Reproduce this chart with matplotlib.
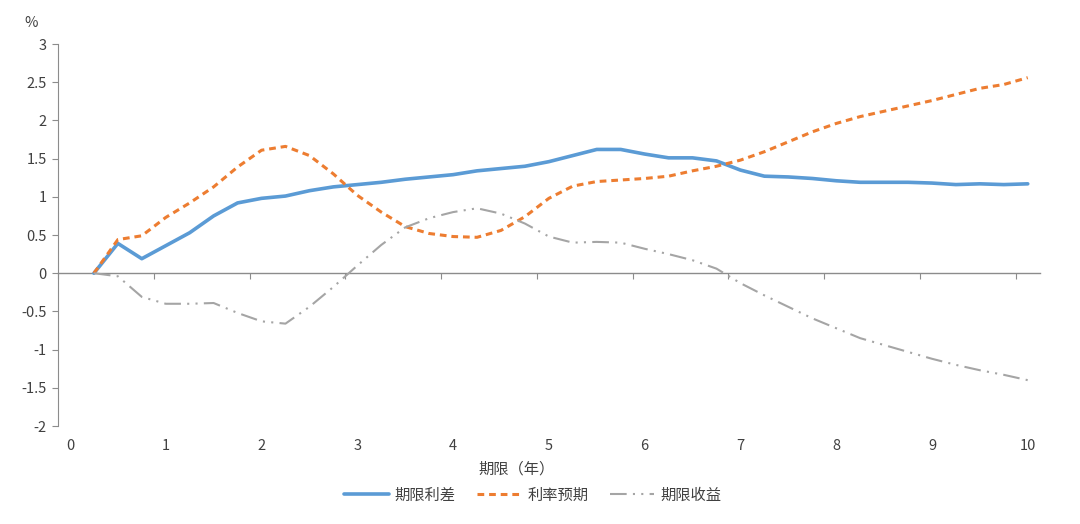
import numpy as np
import matplotlib.pyplot as plt

plt.rcParams['font.family'] = ['Noto Sans CJK SC', 'DejaVu Sans']

# maturities (years), quarterly
maturity = np.arange(1, 41) * 0.25

term_spread = [0.00, 0.39, 0.19, 0.36, 0.53, 0.75, 0.92, 0.98, 1.01, 1.08,
               1.13, 1.16, 1.19, 1.23, 1.26, 1.29, 1.34, 1.37, 1.40, 1.46,
               1.54, 1.62, 1.62, 1.56, 1.51, 1.51, 1.47, 1.35, 1.27, 1.26,
               1.24, 1.21, 1.19, 1.19, 1.19, 1.18, 1.16, 1.17, 1.16, 1.17]
rate_expect = [0.00, 0.44, 0.49, 0.73, 0.92, 1.13, 1.39, 1.61, 1.66, 1.54,
               1.30, 1.02, 0.80, 0.61, 0.52, 0.48, 0.47, 0.56, 0.74, 0.98,
               1.14, 1.20, 1.22, 1.24, 1.27, 1.34, 1.40, 1.48, 1.59, 1.72,
               1.85, 1.96, 2.05, 2.12, 2.19, 2.26, 2.34, 2.42, 2.47, 2.56]
term_premium = [0.00, -0.04, -0.31, -0.40, -0.40, -0.39, -0.52, -0.63, -0.66, -0.44,
                -0.18, 0.10, 0.37, 0.60, 0.72, 0.80, 0.85, 0.78, 0.65, 0.48,
                0.40, 0.41, 0.40, 0.32, 0.25, 0.17, 0.06, -0.13, -0.29, -0.44,
                -0.59, -0.72, -0.85, -0.94, -1.03, -1.12, -1.20, -1.27, -1.33, -1.40]

labels = ['期限利差', '利率预期', '期限收益']
xticks = np.arange(0, 11)
yticks = np.arange(-2, 3.01, 0.5)

axis_grey = '#8c8c8c'
text_col = '#404040'

fig = plt.figure(figsize=(10.8, 5.24), dpi=100)
ax = fig.add_axes([0.0537, 0.187, 0.909, 0.729])

ax.plot(maturity, term_spread, color='#5B9BD5', lw=2.6, label=labels[0],
        solid_capstyle='round')
ax.plot(maturity, rate_expect, color='#ED7D31', lw=2.2, ls=(0, (2.2, 1.6)),
        label=labels[1])
ax.plot(maturity, term_premium, color='#A5A5A5', lw=1.5,
        ls=(0, (8, 3, 1, 3, 1, 3)), label=labels[2])

ax.set_xlim(-0.125, 10.125)
ax.set_ylim(-2, 3)

# category labels at the bottom, no marks
ax.set_xticks(xticks)
ax.set_xticklabels([str(v) for v in xticks])
ax.tick_params(axis='x', length=0, pad=9, labelsize=10.5, labelcolor=text_col)
ax.spines['bottom'].set_visible(False)
ax.spines['top'].set_visible(False)
ax.spines['right'].set_visible(False)

# horizontal axis line through zero with tick marks between categories
zero_ax = ax.secondary_xaxis(0.4)
zero_ax.set_xticks(xticks - 0.125)
zero_ax.set_xticklabels([])
zero_ax.tick_params(axis='x', direction='out', length=4, color=axis_grey)
zero_ax.spines['bottom'].set_color(axis_grey)
zero_ax.spines['bottom'].set_linewidth(1.0)

ax.set_yticks(yticks)
ax.set_yticklabels(['%g' % v for v in yticks])
ax.tick_params(axis='y', direction='out', length=4, color=axis_grey,
               labelsize=10.5, labelcolor=text_col, pad=4)
ax.spines['left'].set_color(axis_grey)

ax.set_xlabel('期限（年）', fontsize=11, color=text_col)
ax.xaxis.set_label_coords(0.467, -0.09)

fig.text(31 / 1080, 1 - 23 / 524, '%', fontsize=10.5, color=text_col,
         ha='center', va='center')

fig.legend(loc='center', bbox_to_anchor=(533 / 1080, 1 - 495 / 524), ncol=3,
           frameon=False, fontsize=11, handlelength=2.9, columnspacing=1.4,
           handletextpad=0.4, labelcolor=text_col)

fig.savefig('out.png', dpi=100)
